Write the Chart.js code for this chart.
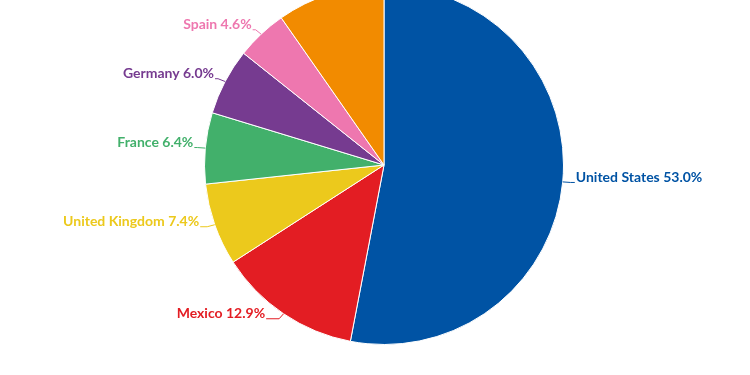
<!DOCTYPE html>
<html>
<head>
<meta charset="utf-8">
<script src="https://cdn.jsdelivr.net/npm/chart.js@4/dist/chart.umd.min.js"></script>
<style>
  html, body { margin: 0; padding: 0; background: #ffffff; overflow: hidden; }
  #wrap { position: absolute; left: 0; top: -30px; width: 750px; height: 390px; }
</style>
</head>
<body>
<div id="wrap"><canvas id="c" width="750" height="390"></canvas></div>
<script>
const categories = ["United States", "Mexico", "United Kingdom", "France", "Germany", "Spain", "Other"];
const shares = [53.0, 12.9, 7.4, 6.4, 6.0, 4.6, 9.7];
const colors = ["#0053A4", "#E31D23", "#ECC91C", "#42B06B", "#763B90", "#EE77AF", "#F28B00"];

const labelPlugin = {
  id: 'pieLabels',
  afterDatasetsDraw(chart) {
    const ctx = chart.ctx;
    const meta = chart.getDatasetMeta(0);
    ctx.save();
    ctx.font = 'bold 14px Lato, "Open Sans", sans-serif';
    ctx.textBaseline = 'middle';
    ctx.lineWidth = 1;
    meta.data.forEach((arc, i) => {
      const mid = (arc.startAngle + arc.endAngle) / 2;
      const r = arc.outerRadius;
      const cx = arc.x, cy = arc.y;
      const dx = Math.cos(mid), dy = Math.sin(mid);
      const px = cx + dx * r, py = cy + dy * r;
      const right = dx >= 0;
      const lx = cx + dx * (r + 8), ly = cy + dy * (r + 6);
      const h = 3 + 12 * Math.max(0, dy);
      const ex = right ? lx + h : lx - h;
      ctx.strokeStyle = colors[i];
      ctx.beginPath();
      ctx.moveTo(px, py);
      ctx.lineTo(lx, ly);
      ctx.lineTo(ex, ly);
      ctx.stroke();
      ctx.fillStyle = colors[i];
      ctx.textAlign = right ? 'left' : 'right';
      ctx.fillText(categories[i] + ' ' + shares[i].toFixed(1) + '%', right ? ex + 1 : ex - 1, ly - 5);
    });
    ctx.restore();
  }
};

new Chart(document.getElementById('c'), {
  type: 'pie',
  data: {
    labels: categories,
    datasets: [{
      data: shares,
      backgroundColor: colors,
      borderColor: '#ffffff',
      borderWidth: 1
    }]
  },
  options: {
    responsive: false,
    animation: false,
    layout: { padding: { left: 18, right: 0, top: 15, bottom: 15 } },
    plugins: { legend: { display: false }, tooltip: { enabled: false } }
  },
  plugins: [labelPlugin]
});
</script>
</body>
</html>
